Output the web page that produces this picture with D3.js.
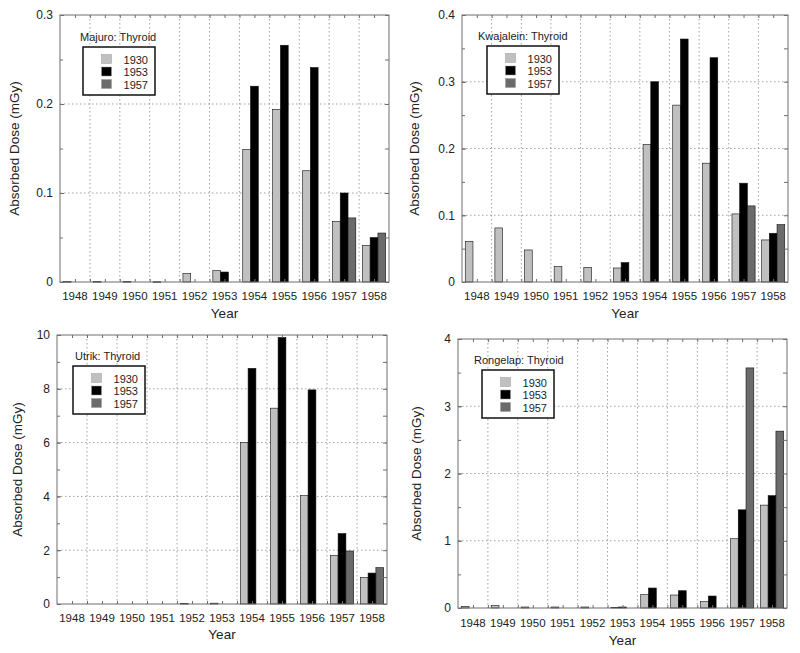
<!DOCTYPE html>
<html>
<head>
<meta charset="utf-8">
<script src="https://cdn.jsdelivr.net/npm/d3@7"></script>
<style>
  html, body { margin: 0; padding: 0; background: #fff; }
  svg { display: block; font-family: "Liberation Sans", Arial, Helvetica, sans-serif; }
</style>
</head>
<body>
<svg id="chart" width="800" height="653"></svg>
<script>
// ---------------- DATA ----------------
const years = ["1948","1949","1950","1951","1952","1953","1954","1955","1956","1957","1958"];
const seriesNames = ["1930", "1953", "1957"];

const majuro1930 = [0.0005, 0.0005, 0.0005, 0.0003, 0.0094, 0.0127, 0.149, 0.194, 0.125, 0.068, 0.041];
const majuro1953 = [0, 0, 0, 0, 0, 0.0112, 0.220, 0.266, 0.241, 0.100, 0.050];
const majuro1957 = [0, 0, 0, 0, 0, 0, 0, 0, 0, 0.072, 0.055];

const kwaj1930 = [0.061, 0.081, 0.048, 0.023, 0.022, 0.021, 0.206, 0.265, 0.178, 0.102, 0.063];
const kwaj1953 = [0, 0, 0, 0, 0, 0.029, 0.300, 0.364, 0.336, 0.148, 0.073];
const kwaj1957 = [0, 0, 0, 0, 0, 0, 0, 0, 0, 0.114, 0.086];

const utrik1930 = [0, 0, 0, 0, 0.02, 0.03, 6.01, 7.28, 4.03, 1.80, 0.99];
const utrik1953 = [0, 0, 0, 0, 0, 0, 8.76, 9.91, 7.96, 2.62, 1.15];
const utrik1957 = [0, 0, 0, 0, 0, 0, 0, 0, 0, 1.97, 1.35];

const rong1930 = [0.025, 0.035, 0.015, 0.015, 0.015, 0.010, 0.198, 0.193, 0.094, 1.03, 1.53];
const rong1953 = [0, 0, 0, 0, 0, 0.015, 0.297, 0.257, 0.178, 1.46, 1.67];
const rong1957 = [0, 0, 0, 0, 0, 0, 0, 0, 0, 3.57, 2.63];

const majuroTicks = [0, 0.1, 0.2, 0.3];
const kwajTicks = [0, 0.1, 0.2, 0.3, 0.4];
const utrikTicks = [0, 2, 4, 6, 8, 10];
const rongTicks = [0, 1, 2, 3, 4];

const titles = ["Majuro: Thyroid", "Kwajalein: Thyroid", "Utrik: Thyroid", "Rongelap: Thyroid"];
const xTitle = "Year";
const yTitle = "Absorbed Dose (mGy)";

// ---------------- LAYOUT ----------------
const panels = [
  { title: titles[0], series: [majuro1930, majuro1953, majuro1957], ticks: majuroTicks,
    x0: 60, x1: 389, y0: 15, y1: 282, yTitleX: 19, xLabY: 300, xTitleY: 318,
    boxX: 83, boxY: 47, titleX: 80 },
  { title: titles[1], series: [kwaj1930, kwaj1953, kwaj1957], ticks: kwajTicks,
    x0: 462, x1: 788, y0: 15, y1: 282, yTitleX: 419, xLabY: 300, xTitleY: 318,
    boxX: 487, boxY: 46, titleX: 478 },
  { title: titles[2], series: [utrik1930, utrik1953, utrik1957], ticks: utrikTicks,
    x0: 57, x1: 387, y0: 335, y1: 604, yTitleX: 22, xLabY: 622, xTitleY: 639,
    boxX: 73, boxY: 366, titleX: 75 },
  { title: titles[3], series: [rong1930, rong1953, rong1957], ticks: rongTicks,
    x0: 458, x1: 787, y0: 339, y1: 608, yTitleX: 421, xLabY: 627, xTitleY: 645,
    boxX: 482, boxY: 370, titleX: 474 }
];

const colors = ["#c0c0c0", "#000000", "#6b6b6b"];
const frameColor = "#6e6e6e";
const gridColor = "#8a8a8a";

const svg = d3.select("#chart");
svg.append("rect").attr("width", 800).attr("height", 653).attr("fill", "#fff");

panels.forEach(p => {
  const g = svg.append("g");
  const yMax = p.ticks[p.ticks.length - 1];
  const step = p.ticks[1] - p.ticks[0];
  const minor = d3.range(0, p.ticks.length * 2 - 1).map(i => i * step / 2);

  const x = d3.scaleBand().domain(years).range([p.x0, p.x1]).padding(0);
  const xs = d3.scaleBand().domain(seriesNames)
    .range([x.bandwidth() * 0.11, x.bandwidth() * 0.89]).padding(0);
  const xl = d3.scaleLinear().domain([0, years.length]).range([p.x0, p.x1]);
  const y = d3.scaleLinear().domain([0, yMax]).range([p.y1, p.y0]);

  // grid lines
  const vgrid = d3.range(1, years.length);
  g.append("g").selectAll("line").data(vgrid).join("line")
    .attr("x1", d => xl(d)).attr("x2", d => xl(d))
    .attr("y1", p.y0).attr("y2", p.y1)
    .attr("stroke", gridColor).attr("stroke-width", 0.8)
    .attr("stroke-dasharray", "1.5,2.5");
  g.append("g").selectAll("line").data(p.ticks.slice(1, -1)).join("line")
    .attr("x1", p.x0).attr("x2", p.x1)
    .attr("y1", d => y(d)).attr("y2", d => y(d))
    .attr("stroke", gridColor).attr("stroke-width", 0.8)
    .attr("stroke-dasharray", "1.5,2.5");

  // bars
  p.series.forEach((vals, si) => {
    g.append("g").selectAll("rect").data(vals.map((v, i) => ({ v, year: years[i] })))
      .join("rect")
      .filter(d => d.v > 0)
      .attr("x", d => x(d.year) + xs(seriesNames[si]))
      .attr("width", xs.bandwidth())
      .attr("y", d => y(d.v))
      .attr("height", d => Math.max(0.6, y(0) - y(d.v)))
      .attr("fill", colors[si])
      .attr("stroke", "#111").attr("stroke-width", 0.6);
  });

  // frame
  g.append("rect").attr("x", p.x0).attr("y", p.y0)
    .attr("width", p.x1 - p.x0).attr("height", p.y1 - p.y0)
    .attr("fill", "none").attr("stroke", frameColor).attr("stroke-width", 1);

  const styleAxis = sel => {
    sel.select(".domain").remove();
    sel.selectAll(".tick line").attr("stroke", frameColor);
    sel.selectAll(".tick text").attr("fill", "#222").style("font-family", "Liberation Sans, Arial, sans-serif");
  };

  // y axes
  const fmt = d => String(d);
  g.append("g").attr("transform", `translate(${p.x0},0)`)
    .call(d3.axisLeft(y).tickValues(p.ticks).tickSize(-4).tickPadding(7).tickFormat(fmt))
    .call(styleAxis)
    .selectAll(".tick text").style("font-size", "12px");
  g.append("g").attr("transform", `translate(${p.x0},0)`)
    .call(d3.axisLeft(y).tickValues(minor).tickSize(-3).tickFormat(""))
    .call(styleAxis);
  g.append("g").attr("transform", `translate(${p.x1},0)`)
    .call(d3.axisRight(y).tickValues(minor).tickSize(-4).tickFormat(""))
    .call(styleAxis);

  // x axes
  const xtv = d3.range(1, years.length * 2).map(i => i / 2);
  g.append("g").attr("transform", `translate(0,${p.y1})`)
    .call(d3.axisBottom(xl).tickValues(xtv).tickSize(-3).tickFormat(""))
    .call(styleAxis);
  g.append("g").attr("transform", `translate(0,${p.y0})`)
    .call(d3.axisTop(xl).tickValues(xtv).tickSize(-3).tickFormat(""))
    .call(styleAxis);
  const xa = g.append("g").attr("transform", `translate(0,${p.y1})`)
    .call(d3.axisBottom(x).tickSize(0).tickPadding(0))
    .call(styleAxis);
  xa.selectAll(".tick text").attr("dy", null).attr("y", p.xLabY - p.y1)
    .style("font-size", "11.5px");

  // axis titles
  g.append("text").attr("x", (p.x0 + p.x1) / 2).attr("y", p.xTitleY)
    .attr("text-anchor", "middle").attr("fill", "#222")
    .style("font-size", "13.5px").text(xTitle);
  g.append("text")
    .attr("transform", `translate(${p.yTitleX},${(p.y0 + p.y1) / 2}) rotate(-90)`)
    .attr("text-anchor", "middle").attr("fill", "#222")
    .style("font-size", "13.5px").text(yTitle);

  // legend
  const lg = g.append("g");
  lg.append("text").attr("x", p.titleX).attr("y", p.boxY - 6)
    .attr("fill", "#222").style("font-size", "11px").text(p.title);
  lg.append("rect").attr("x", p.boxX).attr("y", p.boxY)
    .attr("width", 72).attr("height", 48)
    .attr("fill", "#fff").attr("stroke", "#111").attr("stroke-width", 1.5);
  seriesNames.forEach((s, i) => {
    lg.append("rect").attr("x", p.boxX + 18.5).attr("y", p.boxY + 7.5 + i * 12.5)
      .attr("width", 10).attr("height", 9)
      .attr("fill", colors[i]).attr("stroke", "#999").attr("stroke-width", 0.5);
    lg.append("text").attr("x", p.boxX + 65).attr("y", p.boxY + 16.5 + i * 12.5)
      .attr("text-anchor", "end").attr("fill", "#222")
      .style("font-size", "11px").text(s);
  });
});
</script>
</body>
</html>
